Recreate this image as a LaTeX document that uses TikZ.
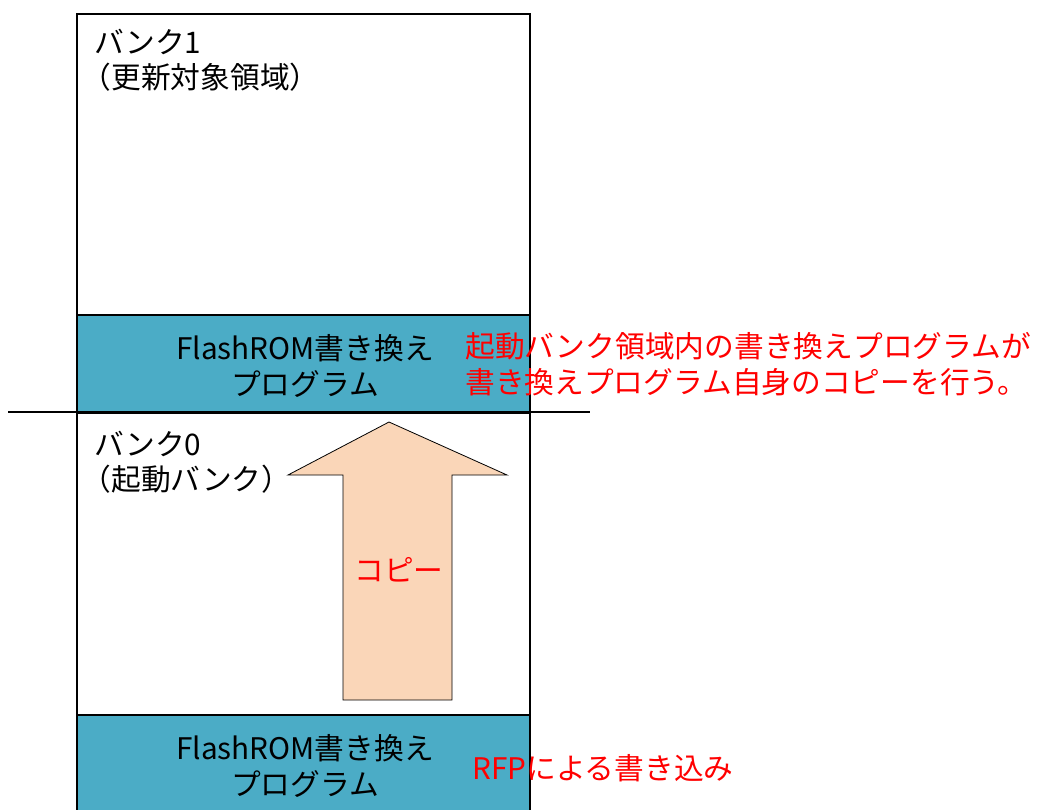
\documentclass[tikz,border=0pt]{standalone}
\usepackage{fontspec}
\setmainfont{Noto Sans CJK JP}
\usepackage{tikz}
\usetikzlibrary{calc}
\usepackage{xcolor}
\definecolor{romblue}{HTML}{4BACC6}
\definecolor{copypeach}{HTML}{FAD6B8}

\begin{document}
\begin{tikzpicture}[
  x=0.75pt,y=-0.75pt,
  txt/.style={inner sep=0pt,font=\fontsize{22.3pt}{26.5pt}\selectfont},
  banklabel/.style={txt,anchor=north west,align=left},
  rombox/.style={draw,line width=1pt,fill=romblue},
  note/.style={txt,text=red,anchor=west,align=left}
  ]
\def\lx{77}   % left edge of flash
\def\rx{530}  % right edge of flash
\useasboundingbox (0,0) rectangle (1040,810);
\clip (0,0) rectangle (1040,810);
\draw[line width=1pt] (\lx,830) -- (\lx,14) -- (\rx,14) -- (\rx,830);   % flash memory
\node[rombox,minimum width=453*0.75pt,minimum height=98*0.75pt] (upper) at (303.5,364){};   % bank 1 program
\node[rombox,minimum width=453*0.75pt,minimum height=110*0.75pt] (lower) at (303.5,770){};   % bank 0 program
\node[txt,align=center] (upperText) at (305,366) {FlashROM書き換え\\プログラム};
\node[txt,align=center] (lowerText) at (305,766) {FlashROM書き換え\\プログラム};
\coordinate (cutL) at (8,412);
\coordinate (cutR) at (590,412);
\draw[line width=1pt] (cutL) -- (cutR);                                 % bank border
\node[banklabel] (bank1) at (94,29) {バンク1\\\hspace*{-0.42em}（更新対象領域）};
\node[banklabel] (bank0) at (94,431) {バンク0\\\hspace*{-0.42em}（起動バンク）};
\draw[fill=copypeach,line width=0.6pt] (343,700) -- (343,475) -- (288,475) -- (389,422)
  -- (507,475) -- (452,475) -- (452,700) -- cycle;                      % copy arrow
\node[txt,text=red] (copy) at (399,570) {コピー};
\node[note] (copyNote) at (465,364) {起動バンク領域内の書き換えプログラムが\\書き換えプログラム自身のコピーを行う。};
\node[note] (rfpNote) at (472,768) {RFPによる書き込み};
\end{tikzpicture}
\end{document}
